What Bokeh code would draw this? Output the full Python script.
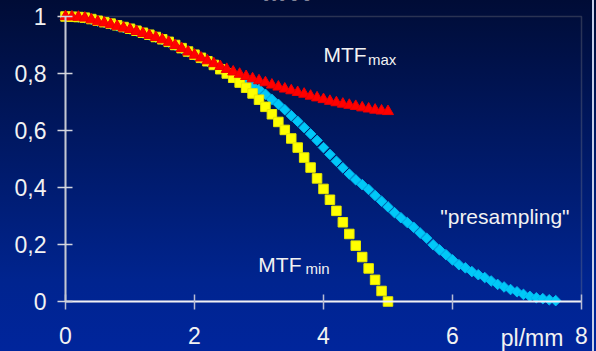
from bokeh.plotting import figure
from bokeh.models import Range1d, Label, BoxAnnotation, FixedTicker, CustomJSTickFormatter
from bokeh.embed import file_html
from bokeh.resources import INLINE

# spatial frequency samples (pl/mm)
freq_to_5 = [0.0, 0.1, 0.2, 0.3, 0.4, 0.5, 0.6, 0.7, 0.8, 0.9,
             1.0, 1.1, 1.2, 1.3, 1.4, 1.5, 1.6, 1.7, 1.8, 1.9,
             2.0, 2.1, 2.2, 2.3, 2.4, 2.5, 2.6, 2.7, 2.8, 2.9,
             3.0, 3.1, 3.2, 3.3, 3.4, 3.5, 3.6, 3.7, 3.8, 3.9,
             4.0, 4.1, 4.2, 4.3, 4.4, 4.5, 4.6, 4.7, 4.8, 4.9, 5.0]
freq_presampling = freq_to_5 + [5.1, 5.2, 5.3, 5.4, 5.5, 5.6, 5.7, 5.8, 5.9,
                                6.0, 6.1, 6.2, 6.3, 6.4, 6.5, 6.6, 6.7, 6.8, 6.9,
                                7.0, 7.1, 7.2, 7.3, 7.4, 7.5, 7.6]

mtf_max = [1.000, 0.999, 0.998, 0.995, 0.989, 0.982, 0.978, 0.972, 0.966, 0.960,
           0.955, 0.948, 0.941, 0.934, 0.927, 0.919, 0.910, 0.899, 0.888, 0.876,
           0.865, 0.855, 0.845, 0.835, 0.825, 0.815, 0.806, 0.798, 0.790, 0.782,
           0.775, 0.768, 0.760, 0.753, 0.746, 0.740, 0.734, 0.728, 0.721, 0.715,
           0.709, 0.703, 0.698, 0.693, 0.689, 0.685, 0.680, 0.676, 0.672, 0.669, 0.667]

mtf_min = [1.000, 0.999, 0.998, 0.996, 0.991, 0.985, 0.980, 0.975, 0.969, 0.963,
           0.957, 0.950, 0.943, 0.936, 0.928, 0.920, 0.911, 0.900, 0.889, 0.877,
           0.866, 0.855, 0.843, 0.830, 0.815, 0.800, 0.785, 0.768, 0.750, 0.730,
           0.708, 0.683, 0.657, 0.630, 0.602, 0.572, 0.540, 0.505, 0.470, 0.432,
           0.395, 0.357, 0.318, 0.278, 0.237, 0.196, 0.156, 0.116, 0.076, 0.037, 0.000]

mtf_presampling = [1.000, 0.999, 0.998, 0.995, 0.990, 0.984, 0.979, 0.973, 0.967, 0.961,
                   0.956, 0.949, 0.942, 0.935, 0.927, 0.919, 0.910, 0.899, 0.888, 0.876,
                   0.865, 0.854, 0.843, 0.831, 0.819, 0.807, 0.795, 0.783, 0.770, 0.757,
                   0.745, 0.727, 0.709, 0.692, 0.673, 0.652, 0.632, 0.610, 0.588, 0.565,
                   0.540, 0.516, 0.492, 0.469, 0.447, 0.427, 0.410, 0.393, 0.372, 0.352,
                   0.332, 0.312, 0.294, 0.277, 0.260, 0.240, 0.222, 0.199, 0.181, 0.164,
                   0.146, 0.129, 0.118, 0.105, 0.094, 0.084, 0.072, 0.060, 0.051, 0.042,
                   0.034, 0.025, 0.018, 0.013, 0.010, 0.006, 0.003]

x_ticks = [0, 2, 4, 6, 8]
y_ticks = [0, 0.2, 0.4, 0.6, 0.8, 1]

FONT = "Liberation Sans"
TEXT = "#f2f2f2"

# the frame fills the whole canvas; the axes are pinned at the origin inside it
p = figure(width=596, height=351, output_backend="svg", toolbar_location=None,
           x_range=Range1d(-1.0078, 8.2326), y_range=Range1d(-0.1754, 1.0561),
           min_border_left=0, min_border_right=0, min_border_top=0, min_border_bottom=0)

# slide-like gradient background behind a transparent canvas
p.background_fill_alpha = 0
p.border_fill_alpha = 0
p.outline_line_color = None
p.styles = {
    "background": "linear-gradient(to right, transparent 592px, #c8d0ea 592px, #c8d0ea 594px, transparent 594px), "
                  "linear-gradient(to bottom, #000c36 0%, #00248f 80%, #00259c 100%)"
}
p.grid.visible = False

# gray frame around the data area
p.add_layout(BoxAnnotation(left=0, right=8, bottom=0, top=1, fill_alpha=0,
                           line_color="#8c8c8c", line_width=1.5, level="underlay"))

p.xaxis.fixed_location = 0
p.yaxis.fixed_location = 0
p.xaxis.bounds = (0, 8)
p.yaxis.bounds = (0, 1)
p.xaxis.ticker = FixedTicker(ticks=x_ticks)
p.yaxis.ticker = FixedTicker(ticks=y_ticks)
p.yaxis.formatter = CustomJSTickFormatter(
    code="return (Math.round(tick * 10) / 10).toString().replace('.', ',');")
for ax in (p.xaxis, p.yaxis):
    ax.minor_tick_line_color = None
    ax.major_tick_in = 7
    ax.major_tick_out = 8
    ax.major_label_text_font = FONT
    ax.major_label_text_font_size = "23px"
    ax.major_label_text_color = TEXT
p.xaxis.axis_line_color = "#f0f0f4"
p.xaxis.axis_line_width = 2
p.xaxis.major_tick_line_color = "#b8bcd4"
p.xaxis.major_tick_line_width = 1.5
p.xaxis.major_label_standoff = 17
p.yaxis.axis_line_color = "#c4c8d4"
p.yaxis.axis_line_width = 2
p.yaxis.major_tick_line_color = "#d4d6de"
p.yaxis.major_tick_line_width = 1.5
p.yaxis.major_label_standoff = 11

# curves: presampling (diamonds), minimum (squares), maximum (triangles)
p.scatter(freq_presampling, mtf_presampling, marker="square", angle=0.7854, size=7.5,
          fill_color="#00c8f8", line_color="#00b8f0")
p.scatter(freq_to_5, mtf_min, marker="square", size=9.5,
          fill_color="#ffff00", line_color="#e8e800")
p.scatter(freq_to_5, mtf_max, marker="triangle", size=11,
          fill_color="#ff0000", line_color="#ee0000")


def add_text(x, y, txt, size, align="left", bold=False):
    p.add_layout(Label(x=x, y=y, text=txt, text_font=FONT,
                       text_font_size=size, text_color=TEXT, text_align=align,
                       text_baseline="alphabetic",
                       text_font_style="bold" if bold else "normal"))


add_text(3.5, 1.086, "MTF", "28px", align="center", bold=True)
add_text(4.0, 0.867, "MTF", "21px")
add_text(4.69, 0.850, "max", "15px")
add_text(2.99, 0.130, "MTF", "21px")
add_text(3.72, 0.116, "min", "15px")
add_text(5.81, 0.299, "\"presampling\"", "21px")
add_text(7.72, -0.127, "pl/mm", "23px", align="right")

open("out.html", "w").write(file_html(p, INLINE))
